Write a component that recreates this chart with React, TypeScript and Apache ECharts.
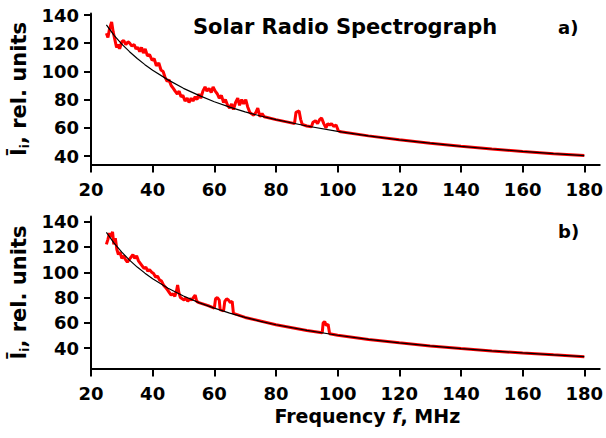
import React, { useEffect, useRef } from "react";
import * as echarts from "echarts";

// ---------- data ----------
const xTicks = [20, 40, 60, 80, 100, 120, 140, 160, 180];
const yTicks = [40, 60, 80, 100, 120, 140];

// fitted curve (black), panel a) and panel b)
const fitFreq = [25, 27.5, 30, 32.5, 35, 37.5, 40, 45, 50, 55, 60, 65, 70, 75, 80, 90, 100, 110, 120, 130, 140, 150, 160, 170, 180];
const fitA = [133, 125.6, 119.4, 114, 109.2, 104.8, 100.8, 94, 88, 83, 78.5, 74.7, 71.3, 68.4, 65.8, 61.3, 57.5, 54.3, 51.5, 49.1, 46.9, 45, 43.3, 41.7, 40.3];
const fitB = [131.6, 123.1, 115.9, 109.6, 104.1, 99.3, 94.9, 87.4, 81.2, 76, 71.6, 67.7, 64.3, 61.2, 58.5, 54, 50.2, 46.9, 44.2, 41.8, 39.7, 37.8, 36.2, 34.7, 33.3];

// measured spectrum (red), panel a)
const spectrumA: [number, number][] = [
  [25, 127], [25.5, 124], [26, 130], [26.7, 135], [27.2, 128], [27.8, 122], [28.3, 117], [28.8, 119],
  [29.3, 116], [30, 121], [30.6, 122], [31.3, 119], [32, 121], [32.6, 120], [33.2, 118], [34, 119],
  [34.6, 116], [35.2, 117], [35.8, 114], [36.4, 117], [37, 113], [37.6, 116], [38.3, 111], [39, 112],
  [39.8, 108], [40.5, 109], [41.2, 104], [42, 106], [42.7, 101], [43.4, 100], [44, 96], [44.7, 93],
  [45.3, 94], [46, 90], [46.7, 88], [47.3, 86], [48, 84], [48.6, 86], [49.2, 82], [49.8, 83],
  [50.5, 79], [51.2, 81], [51.8, 78], [52.5, 81], [53.1, 79], [53.8, 82], [54.4, 80], [55, 84],
  [55.6, 81], [56.3, 86], [57, 89], [57.6, 86], [58.3, 88], [59, 85], [59.6, 89], [60.3, 86],
  [61, 84], [61.6, 81], [62.3, 83], [63, 78], [63.6, 80], [64.3, 76], [65, 74], [65.6, 77],
  [66.2, 73], [66.9, 78], [67.6, 81], [68.2, 76], [68.9, 80], [69.5, 77], [70.2, 80], [70.8, 75],
  [71.5, 71], [72.1, 70], [72.8, 69], [73.5, 71], [74.1, 74], [74.8, 68], [75.5, 70], [76.2, 67.8],
  [80, 65.8], [85, 63.5], [86, 63], [86.5, 71], [87.5, 72], [88, 66], [88.5, 62.5], [90, 61.3],
  [91.5, 60.8], [92, 64], [92.8, 65], [93.5, 63], [94.2, 66], [94.8, 67], [95.5, 63], [96.2, 60],
  [96.8, 63], [97.4, 62], [98, 63], [98.7, 61], [99.5, 62], [100.2, 58], [101, 57.2],
  [110, 54.3], [120, 51.5], [130, 49.1], [140, 46.9], [150, 45], [160, 43.3], [170, 41.7], [180, 40.3],
];

// measured spectrum (red), panel b)
const spectrumB: [number, number][] = [
  [25, 122], [25.5, 126], [26, 131], [26.5, 128], [27, 132], [27.4, 122], [27.9, 127], [28.4, 118],
  [28.9, 114], [29.4, 116], [30, 111], [30.6, 113], [31.2, 110], [31.8, 108], [32.4, 110], [33, 112],
  [33.6, 114], [34.2, 111], [34.8, 113], [35.4, 109], [36, 107], [36.6, 105], [37.2, 103], [37.8, 104],
  [38.4, 101], [39, 102], [39.7, 100], [40.3, 99], [41, 96], [41.6, 97], [42.2, 94], [42.9, 93],
  [43.5, 90], [44.2, 88], [44.8, 86], [45.4, 84], [46, 82], [46.6, 83], [47.2, 81], [47.8, 86],
  [48.1, 90], [48.5, 84], [49, 80], [49.6, 79], [50.2, 78], [50.8, 80], [51.4, 77], [52, 79],
  [52.6, 78], [53.2, 80], [53.8, 82], [54.3, 77], [55, 76], [58, 73.6], [60, 71.6], [60.4, 79],
  [61, 80], [61.6, 78], [61.9, 70.5], [63, 69.5], [63.4, 77], [64, 79], [64.6, 78], [65.2, 76],
  [65.8, 77], [66.2, 67.5], [70, 64.3], [80, 58.5], [90, 54], [95, 52.1], [95.3, 60], [95.8, 61],
  [96.3, 58], [96.9, 59], [97.4, 51.4], [100, 50.2], [110, 46.9], [120, 44.2], [130, 41.8],
  [140, 39.7], [150, 37.8], [160, 36.2], [170, 34.7], [180, 33.3],
];

const FONT = "DejaVu Sans";

function zip(xs: number[], ys: number[]): [number, number][] {
  return xs.map((x, i) => [x, ys[i]]);
}

function xAxisOf(gridIndex: number, withName: boolean) {
  return {
    type: "value",
    gridIndex,
    min: 20,
    max: 185,
    axisLine: { onZero: false, lineStyle: { color: "#000", width: 2 } },
    axisTick: { length: 8, lineStyle: { color: "#000", width: 2 }, customValues: xTicks },
    axisLabel: {
      customValues: xTicks,
      margin: 16,
      color: "#000",
      fontSize: 18,
      fontWeight: "bold",
      fontFamily: FONT,
    },
    splitLine: { show: false },
    name: withName ? "{n|Frequency }{i|f}{n|, MHz}" : "",
    nameLocation: "middle",
    nameGap: 38,
    nameTextStyle: {
      padding: [0, 0, 0, 44],
      rich: {
        n: { fontSize: 19, fontWeight: "bold", fontFamily: FONT, color: "#000" },
        i: { fontSize: 19, fontWeight: "bold", fontStyle: "italic", fontFamily: FONT, color: "#000" },
      },
    },
  };
}

function yAxisOf(gridIndex: number, min: number, max: number) {
  return {
    type: "value",
    gridIndex,
    min,
    max,
    axisLine: { show: true, lineStyle: { color: "#000", width: 2 } },
    axisTick: { show: true, length: 7, lineStyle: { color: "#000", width: 2 }, customValues: yTicks },
    axisLabel: {
      customValues: yTicks,
      margin: 12,
      color: "#000",
      fontSize: 18,
      fontWeight: "bold",
      fontFamily: FONT,
    },
    splitLine: { show: false },
    name: "{a|Ī}{s|i}{a|, rel. units}",
    nameLocation: "middle",
    nameRotate: 90,
    nameGap: 47,
    nameTextStyle: {
      rich: {
        a: { fontSize: 21, fontWeight: "bold", fontFamily: FONT, color: "#000", lineHeight: 24 },
        s: { fontSize: 12, fontWeight: "bold", fontFamily: FONT, color: "#000", verticalAlign: "bottom" },
      },
    },
  };
}

export default function App() {
  const ref = useRef<HTMLDivElement>(null);
  useEffect(() => {
    if (!ref.current) return;
    const chart = echarts.init(ref.current, undefined, { renderer: "svg" });
    chart.setOption({
      animation: false,
      backgroundColor: "#fff",
      title: [
        {
          text: "Solar Radio Spectrograph",
          left: 193,
          top: 16,
          padding: 0,
          textStyle: { fontSize: 21, fontWeight: "bold", fontFamily: FONT, color: "#000" },
        },
        {
          text: "a)",
          left: 558,
          top: 18,
          padding: 0,
          textStyle: { fontSize: 18, fontWeight: "bold", fontFamily: FONT, color: "#000" },
        },
        {
          text: "b)",
          left: 558,
          top: 222,
          padding: 0,
          textStyle: { fontSize: 18, fontWeight: "bold", fontFamily: FONT, color: "#000" },
        },
      ],
      grid: [
        { left: 88, top: 13.6, width: 513.6, height: 150.9 },
        { left: 88, top: 216.6, width: 513.6, height: 151.8 },
      ],
      xAxis: [xAxisOf(0, false), xAxisOf(1, true)],
      yAxis: [yAxisOf(0, 34, 141), yAxisOf(1, 24, 144)],
      series: [
        {
          type: "line",
          xAxisIndex: 0,
          yAxisIndex: 0,
          data: spectrumA,
          showSymbol: false,
          lineStyle: { color: "#ff0000", width: 3 },
          z: 2,
        },
        {
          type: "line",
          xAxisIndex: 0,
          yAxisIndex: 0,
          data: zip(fitFreq, fitA),
          showSymbol: false,
          lineStyle: { color: "#000", width: 1.2 },
          z: 3,
        },
        {
          type: "line",
          xAxisIndex: 1,
          yAxisIndex: 1,
          data: spectrumB,
          showSymbol: false,
          lineStyle: { color: "#ff0000", width: 3 },
          z: 2,
        },
        {
          type: "line",
          xAxisIndex: 1,
          yAxisIndex: 1,
          data: zip(fitFreq, fitB),
          showSymbol: false,
          lineStyle: { color: "#000", width: 1.2 },
          z: 3,
        },
      ],
    });
    return () => chart.dispose();
  }, []);
  return (
    <div
      ref={ref}
      style={{ position: "absolute", left: 0, top: 0, width: 606, height: 438, background: "#fff" }}
    />
  );
}
